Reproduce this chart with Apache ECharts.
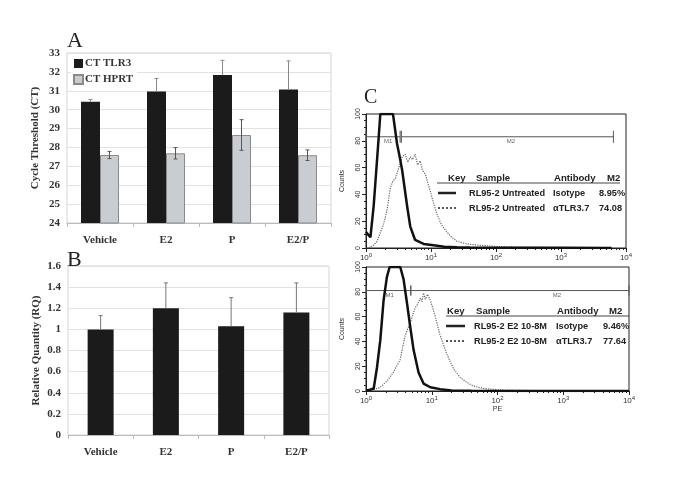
<!DOCTYPE html>
<html>
<head>
    <meta charset="utf-8"/>
    <title>TLR3 figure</title>
    <style type="text/css">
        body { margin: 0; background: #fff; }
        #main { width: 685px; height: 502px; }
    </style>
    <script type="text/javascript" src="https://cdn.jsdelivr.net/npm/echarts@6/dist/echarts.min.js"></script>
</head>
<body>
<div id="main"></div>
<script type="text/javascript">

    // panel A / B data
    var cats = ['Vehicle', 'E2', 'P', 'E2/P'];
    var tlr3 = [30.42, 30.96, 31.83, 31.07];
    var tlr3Err = [0.12, 0.69, 0.78, 1.51];
    var hprt = [27.6, 27.69, 28.66, 27.59];
    var hprtErr = [0.19, 0.3, 0.81, 0.28];
    var rq = [1.0, 1.2, 1.03, 1.16];
    var rqErr = [0.13, 0.24, 0.27, 0.28];

    // panel C data (PE fluorescence, counts)
    var topIsoX = [1, 1.08, 1.17, 1.31, 1.44, 1.57, 1.66, 1.8, 2.2, 2.6, 3.0, 3.3, 3.6, 4.3, 4.8, 5.7, 7.7, 11, 16, 25, 40, 100, 1000, 6000];
    var topIsoY = [12, 10, 8, 31, 58, 83, 100, 100, 100, 100, 78, 68, 58, 31, 16, 6, 3, 2, 1, 0.5, 0.3, 0.2, 0.1, 0];
    var topAbX = [1.1, 1.3, 1.48, 1.87, 2.1, 2.37, 2.6, 2.83, 3.3, 3.6, 4.0, 4.4, 4.8, 5.2, 5.7, 6.2, 6.8, 7.4, 8.2, 9.0, 9.8, 11, 12.4, 14, 15.6, 19.8, 25, 36, 57, 116, 300, 1000, 5000];
    var topAbY = [0, 2, 5, 18, 28, 45, 50, 52, 62, 68, 70, 64, 68, 66, 70, 62, 65, 58, 55, 48, 42, 33, 25, 19, 15, 9, 5, 3, 2, 1, 0.5, 0.3, 0.2];
    var botIsoX = [1, 1.15, 1.31, 1.47, 1.65, 1.85, 2.08, 2.29, 2.6, 3.0, 3.32, 3.73, 4.2, 4.7, 5.3, 6.3, 7.5, 9.5, 13.4, 20, 40, 200, 10000];
    var botIsoY = [0.5, 1, 2, 19, 41, 73, 92, 100, 100, 100, 100, 90, 71, 52, 33, 15, 6, 3, 1.5, 0.5, 0.3, 0.1, 0];
    var botAbX = [1.31, 1.65, 2.08, 2.6, 3.3, 3.7, 3.96, 4.3, 4.7, 5.2, 5.6, 6.1, 6.7, 7.1, 7.5, 8.0, 8.6, 9.7, 11.3, 13.4, 16.9, 21.4, 27, 34, 43, 61, 97, 200, 600, 3000];
    var botAbY = [1, 3, 8, 15, 25, 38, 45, 50, 55, 62, 67, 70, 75, 72, 79, 74, 78, 72, 60, 45, 30, 18, 11, 7, 4, 2, 1, 0.5, 0.3, 0.1];

    // gates: name, from, to, label position ; and gate height in counts
    var gatesTop = [['M1', 1, 3.35, 2.2], ['M2', 3.5, 6400, 170]];
    var gateTopY = 83;
    var gatesBot = [['M1', 1, 4.8, 2.3], ['M2', 4.8, 10000, 800]];
    var gateBotY = 81;

    // legend tables in panel C
    var keyHead = ['Key', 'Sample', 'Antibody', 'M2'];
    var keyTop = [['RL95-2 Untreated', 'Isotype', '8.95%'], ['RL95-2 Untreated', '\u03b1TLR3.7', '74.08']];
    var keyBot = [['RL95-2 E2 10-8M', 'Isotype', '9.46%'], ['RL95-2 E2 10-8M', '\u03b1TLR3.7', '77.64']];

    function pairs(xs, ys) {
        return xs.map(function (x, i) { return [x, ys[i]]; });
    }

    var serif = 'Liberation Serif';
    var sans = 'Liberation Sans';

    // error bar drawing
    function errBar(offset, color, cap, both) {
        return function (params, api) {
            var i = api.value(0);
            var p0 = api.coord([i, api.value(1)]);
            var p1 = api.coord([i, api.value(2)]);
            var cx = p0[0] + offset;
            var kids = [
                {type: 'line', shape: {x1: cx, y1: p0[1], x2: cx, y2: p1[1]}, style: {stroke: color, lineWidth: 1}},
                {type: 'line', shape: {x1: cx - cap, y1: p1[1], x2: cx + cap, y2: p1[1]}, style: {stroke: color, lineWidth: 1}}
            ];
            if (both) {
                kids.push({type: 'line', shape: {x1: cx - cap, y1: p0[1], x2: cx + cap, y2: p0[1]}, style: {stroke: color, lineWidth: 1}});
            }
            return {type: 'group', children: kids};
        };
    }

    function gateItem(tick) {
        return function (params, api) {
            var a = api.coord([api.value(0), api.value(2)]);
            var b = api.coord([api.value(1), api.value(2)]);
            var l = api.coord([api.value(3), api.value(2)]);
            var c = '#555';
            return {
                type: 'group', children: [
                    {type: 'line', shape: {x1: a[0], y1: a[1], x2: b[0], y2: b[1]}, style: {stroke: c, lineWidth: 1}},
                    {type: 'line', shape: {x1: a[0], y1: a[1] - tick, x2: a[0], y2: a[1] + tick}, style: {stroke: c, lineWidth: 1}},
                    {type: 'line', shape: {x1: b[0], y1: b[1] - tick, x2: b[0], y2: b[1] + tick}, style: {stroke: c, lineWidth: 1}},
                    {type: 'text', x: l[0], y: l[1] + 2, style: {text: api.value(4), fill: '#666', font: '6px ' + sans, textAlign: 'center'}}
                ]
            };
        };
    }

    function gateData(g, y) {
        return g.map(function (d) { return [d[1], d[2], y, d[3], d[0]]; });
    }

    var catAxis = function (idx) {
        return {
            type: 'category', gridIndex: idx, data: cats,
            axisLine: {lineStyle: {color: '#bbb'}},
            axisTick: {show: true, length: 4, lineStyle: {color: '#bbb'}},
            axisLabel: {fontFamily: serif, fontWeight: 'bold', fontSize: 11, color: '#333', margin: 12}
        };
    };

    var valAxisStyle = {
        axisLine: {show: false},
        axisTick: {show: false},
        splitLine: {lineStyle: {color: '#e2e2e2'}},
        axisLabel: {fontFamily: serif, fontWeight: 'bold', fontSize: 11, color: '#333', margin: 7},
        nameLocation: 'middle',
        nameTextStyle: {fontFamily: serif, fontWeight: 'bold', fontSize: 11, color: '#333'}
    };

    var sup = {fontSize: 6, verticalAlign: 'top', padding: [0, 0, 5, 0], color: '#333', fontFamily: sans};
    var logAxis = function (idx, name) {
        return {
            type: 'log', gridIndex: idx, logBase: 10, min: 1, max: 10000,
            name: name, nameLocation: 'middle', nameGap: 12,
            nameTextStyle: {fontSize: 7, color: '#333', fontFamily: sans},
            axisLine: {lineStyle: {color: '#222'}},
            axisTick: {length: 4, lineStyle: {color: '#222'}},
            minorTick: {show: true, splitNumber: 9, length: 2, lineStyle: {color: '#222'}},
            splitLine: {show: false},
            axisLabel: {
                fontSize: 8, color: '#333', fontFamily: sans, margin: 4,
                formatter: function (v) { return '10{s|' + Math.round(Math.log10(v)) + '}'; },
                rich: {s: sup}
            }
        };
    };
    var countAxis = function (idx) {
        return {
            type: 'value', gridIndex: idx, min: 0, max: 100, interval: 20,
            name: 'Counts', nameLocation: 'middle', nameGap: 20, nameRotate: 90,
            nameTextStyle: {fontSize: 7, color: '#333', fontFamily: sans},
            axisLine: {show: true, lineStyle: {color: '#222'}},
            axisTick: {length: 4, lineStyle: {color: '#222'}},
            minorTick: {show: true, splitNumber: 4, length: 2, lineStyle: {color: '#222'}},
            splitLine: {show: false},
            axisLabel: {fontSize: 7, color: '#333', fontFamily: sans, rotate: 90, margin: 4}
        };
    };

    // key tables as text
    var graphics = [
        {type: 'text', left: 67, top: 30, style: {text: 'A', font: '22px ' + serif, fill: '#222'}},
        {type: 'text', left: 67, top: 249, style: {text: 'B', font: '22px ' + serif, fill: '#222'}},
        {type: 'text', left: 364, top: 88, style: {text: 'C', font: '20px ' + serif, fill: '#222'}}
    ];

    function keyTable(yHead, rows, lineX, cols, rule) {
        var f = 'bold 9.2px ' + sans;
        keyHead.forEach(function (h, i) {
            graphics.push({type: 'text', x: cols.head[i], y: yHead, style: {text: h, font: 'bold 9.6px ' + sans, fill: '#222', textVerticalAlign: 'middle'}});
        });
        graphics.push({type: 'line', shape: {x1: rule[0], y1: yHead + 5, x2: rule[1], y2: yHead + 5}, style: {stroke: '#444', lineWidth: 1}});
        rows.forEach(function (r, j) {
            var y = yHead + 15 + j * 15;
            graphics.push({type: 'line', shape: {x1: lineX[0], y1: y, x2: lineX[1], y2: y},
                style: {stroke: '#222', lineWidth: j === 0 ? 2.5 : 1.5, lineDash: j === 0 ? null : [2, 2]}});
            r.forEach(function (t, i) {
                graphics.push({type: 'text', x: cols.row[i], y: y, style: {text: t, font: f, fill: '#222', textVerticalAlign: 'middle'}});
            });
        });
    }

    keyTable(178, keyTop, [438, 456], {head: [448, 476, 554, 607], row: [469, 553, 599]}, [437, 620]);
    keyTable(311, keyBot, [446, 465], {head: [447, 476, 557, 609], row: [474, 556, 603]}, [446, 629]);

    var myChart = echarts.init(document.getElementById('main'));

    var option = {
        backgroundColor: '#fff',
        animation: false,
        legend: {
            data: [{name: 'CT TLR3', icon: 'rect'}, {name: 'CT HPRT', icon: 'rect'}],
            orient: 'vertical', left: 71, top: 56,
            itemWidth: 9, itemHeight: 9, itemGap: 5,
            backgroundColor: '#fff', padding: [2, 4, 2, 2],
            textStyle: {fontFamily: serif, fontWeight: 'bold', fontSize: 11, color: '#333', padding: [0, 0, 0, -3]}
        },
        grid: [
            {left: 67, top: 53, width: 264, height: 170, show: true, borderColor: '#d4d4d4', backgroundColor: 'transparent'},
            {left: 68, top: 266, width: 261, height: 169, show: true, borderColor: '#d4d4d4', backgroundColor: 'transparent'},
            {left: 366, top: 114, width: 260, height: 134, show: true, borderColor: '#222', borderWidth: 1},
            {left: 366, top: 267, width: 263, height: 124, show: true, borderColor: '#222', borderWidth: 1}
        ],
        xAxis: [catAxis(0), catAxis(1), logAxis(2, ''), logAxis(3, 'PE')],
        yAxis: [
            Object.assign({type: 'value', gridIndex: 0, min: 24, max: 33, interval: 1, name: 'Cycle Threshold (CT)', nameGap: 26}, valAxisStyle),
            Object.assign({type: 'value', gridIndex: 1, min: 0, max: 1.6, interval: 0.2, name: 'Relative Quantity (RQ)', nameGap: 26}, valAxisStyle),
            countAxis(2),
            countAxis(3)
        ],
        graphic: graphics,
        series: [
            {name: 'CT TLR3', type: 'bar', xAxisIndex: 0, yAxisIndex: 0, data: tlr3, barWidth: 19, barGap: '0%',
                itemStyle: {color: '#1b1b1b'}},
            {name: 'CT HPRT', type: 'bar', xAxisIndex: 0, yAxisIndex: 0, data: hprt, barWidth: 19,
                itemStyle: {color: '#c9cdd1', borderColor: '#8a8a8a', borderWidth: 1}},
            {type: 'custom', xAxisIndex: 0, yAxisIndex: 0, z: 5,
                renderItem: errBar(-9.5, '#888', 2, false),
                data: tlr3.map(function (v, i) { return [i, v, v + tlr3Err[i]]; })},
            {type: 'custom', xAxisIndex: 0, yAxisIndex: 0, z: 5,
                renderItem: errBar(9.5, '#555', 2, true),
                data: hprt.map(function (v, i) { return [i, v - hprtErr[i], v + hprtErr[i]]; })},
            {type: 'bar', xAxisIndex: 1, yAxisIndex: 1, data: rq, barWidth: 26, itemStyle: {color: '#1b1b1b'}},
            {type: 'custom', xAxisIndex: 1, yAxisIndex: 1, z: 5,
                renderItem: errBar(0, '#777', 2, false),
                data: rq.map(function (v, i) { return [i, v, v + rqErr[i]]; })},

            {type: 'line', xAxisIndex: 2, yAxisIndex: 2, data: pairs(topAbX, topAbY), symbol: 'none',
                lineStyle: {color: '#666', width: 1.2, type: 'dotted'}},
            {type: 'line', xAxisIndex: 2, yAxisIndex: 2, data: pairs(topIsoX, topIsoY), symbol: 'none',
                lineStyle: {color: '#111', width: 2.5}},
            {type: 'custom', xAxisIndex: 2, yAxisIndex: 2, renderItem: gateItem(6), data: gateData(gatesTop, gateTopY)},

            {type: 'line', xAxisIndex: 3, yAxisIndex: 3, data: pairs(botAbX, botAbY), symbol: 'none',
                lineStyle: {color: '#666', width: 1.2, type: 'dotted'}},
            {type: 'line', xAxisIndex: 3, yAxisIndex: 3, data: pairs(botIsoX, botIsoY), symbol: 'none',
                lineStyle: {color: '#111', width: 2.5}},
            {type: 'custom', xAxisIndex: 3, yAxisIndex: 3, renderItem: gateItem(5), data: gateData(gatesBot, gateBotY)}
        ]
    };

    myChart.setOption(option);

</script>
</body>
</html>
